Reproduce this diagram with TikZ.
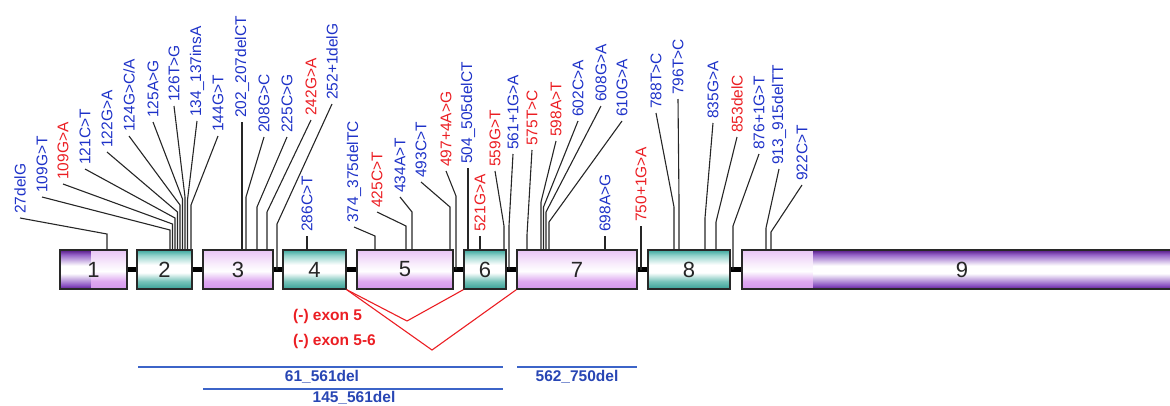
\documentclass[tikz,border=0pt]{standalone}
\usepackage{fontspec}
\setmainfont{Liberation Sans}
\usetikzlibrary{calc}
\definecolor{mblue}{RGB}{30,50,200}
\definecolor{mred}{RGB}{235,30,35}
\definecolor{lineblue}{RGB}{60,100,200}
\definecolor{dblue}{RGB}{40,70,180}
\definecolor{edgec}{RGB}{40,40,40}
\definecolor{lilA}{RGB}{232,196,245}
\definecolor{lilB}{RGB}{248,236,252}
\definecolor{lilC}{RGB}{222,168,240}
\definecolor{lilD}{RGB}{212,150,236}
\definecolor{tealA}{RGB}{60,168,158}
\definecolor{tealB}{RGB}{150,212,204}
\definecolor{tealC}{RGB}{120,196,186}
\definecolor{tealD}{RGB}{55,160,150}
\definecolor{dpA}{RGB}{85,25,135}
\definecolor{dpB}{RGB}{150,100,200}
\definecolor{dpC}{RGB}{140,85,195}
\definecolor{dpD}{RGB}{95,30,145}
\pgfdeclareverticalshading{lilacsh}{100bp}{color(0bp)=(lilD); color(25bp)=(lilD); color(35bp)=(lilC); color(48bp)=(white); color(58bp)=(lilB); color(75bp)=(lilA); color(100bp)=(lilA)}
\pgfdeclareverticalshading{tealsh}{100bp}{color(0bp)=(tealD); color(25bp)=(tealD); color(35bp)=(tealC); color(46bp)=(white); color(56bp)=(white); color(68bp)=(tealB); color(75bp)=(tealA); color(100bp)=(tealA)}
\pgfdeclareverticalshading{darkpsh}{100bp}{color(0bp)=(dpD); color(25bp)=(dpD); color(30bp)=(dpC); color(45bp)=(white); color(55bp)=(white); color(69bp)=(dpB); color(75bp)=(dpA); color(100bp)=(dpA)}
\tikzset{
  exon/.style={draw=edgec, line width=1.4pt, inner sep=0pt, minimum height=39pt,
    font=\fontsize{22}{24}\selectfont, text=black!85},
  lab/.style={rotate=90, anchor=west, inner xsep=4pt, inner ysep=0pt,
    font=\fontsize{15.5}{17}\selectfont},
  lead/.style={draw=black!85, line width=1.1pt},
  intron/.style={draw=black, line width=5pt},
  splice/.style={draw=mred, line width=1.1pt},
  skiplab/.style={anchor=west, inner sep=0pt, text=mred, font=\bfseries\fontsize{15.5}{17}\selectfont},
  dline/.style={draw=lineblue, line width=1.5pt},
  dlab/.style={inner sep=0pt, text=dblue, font=\bfseries\fontsize{15.5}{17}\selectfont}
}
\newcommand\mutlab[8]{%
  \node[lab, text=#4] (#1) at (#2,#3) {#5};
  \draw[lead] (#1.west) -- (#6,#7) -- (#6,#7 |- #8);
}
\begin{document}
\begin{tikzpicture}[x=1pt,y=-1pt]
\useasboundingbox (0,0) rectangle (1170,405);
\clip (0,0) rectangle (1170,405);
% exon shading parts for 1 and 9
\shade[shading=darkpsh] (60,250) rectangle (91,289);
\shade[shading=lilacsh] (91,250) rectangle (127,289);
\shade[shading=lilacsh] (742,250) rectangle (813,289);
\shade[shading=darkpsh] (813,250) rectangle (1182,289);
% exons
\node[exon, minimum width=67pt] (e1) at (93.5,269.5) {1};
\node[exon, shade, shading=tealsh, minimum width=55pt] (e2) at (164.5,269.5) {2};
\node[exon, shade, shading=lilacsh, minimum width=70pt] (e3) at (238,269.5) {3};
\node[exon, shade, shading=tealsh, minimum width=63pt] (e4) at (314.5,269.5) {4};
\node[exon, shade, shading=lilacsh, minimum width=96pt] (e5) at (405,269.5) {5};
\node[exon, shade, shading=tealsh, minimum width=42pt] (e6) at (485,269.5) {6};
\node[exon, shade, shading=lilacsh, minimum width=120pt] (e7) at (577,269.5) {7};
\node[exon, shade, shading=tealsh, minimum width=82pt] (e8) at (689,269.5) {8};
\node[exon, minimum width=440pt] (e9) at (962,269.5) {9};
% introns
\foreach \a/\b in {e1/e2,e2/e3,e3/e4,e4/e5,e5/e6,e6/e7,e7/e8,e8/e9}
  \draw[intron] (\a.east) -- (\b.west);
% exon 1
\mutlab{m27}{20}{218}{mblue}{27delG}{107}{234}{e1.north}
% exon 2
\mutlab{m109a}{42}{197}{mblue}{109G>T}{170}{230}{e2.north}
\mutlab{m109b}{63}{184}{mred}{109G>A}{172.5}{224}{e2.north}
\mutlab{m121}{85}{169}{mblue}{121C>T}{175}{218}{e2.north}
\mutlab{m122}{107}{152}{mblue}{122G>A}{177.5}{212}{e2.north}
\mutlab{m124}{129}{136}{mblue}{124G>C/A}{180}{205}{e2.north}
\mutlab{m125}{153}{122}{mblue}{125A>G}{182.5}{199}{e2.north}
\mutlab{m126}{174}{106}{mblue}{126T>G}{185}{197}{e2.north}
\mutlab{m134}{197}{121}{mblue}{134\_137insA}{187.5}{200}{e2.north}
\mutlab{m144}{218}{136}{mblue}{144G>T}{191}{205}{e2.north}
% exon 3
\mutlab{m202}{242}{122}{mblue}{202\_207delCT}{242}{200}{e3.north}
\mutlab{m208}{264}{137}{mblue}{208G>C}{246}{197}{e3.north}
\mutlab{m225}{287}{137}{mblue}{225C>G}{257}{207}{e3.north}
\mutlab{m242}{311}{120}{mred}{242G>A}{267}{212}{e3.north}
\mutlab{m252}{332}{104}{mblue}{252+1delG}{277}{224}{e3.east}
% exon 4
\mutlab{m286}{307}{236}{mblue}{286C>T}{307}{240}{e4.north}
% exon 5
\mutlab{m374}{354}{227}{mblue}{374\_375delTC}{375}{236}{e5.north}
\mutlab{m425}{377}{212}{mred}{425C>T}{406}{226}{e5.north}
\mutlab{m434}{400}{197}{mblue}{434A>T}{412}{212}{e5.north}
\mutlab{m493}{421}{182}{mblue}{493C>T}{450}{207}{e5.north}
\mutlab{m497}{446}{171}{mred}{497+4A>G}{456}{196}{e5.east}
% exon 6
\mutlab{m504}{468}{168}{mblue}{504\_505delCT}{468}{200}{e6.north}
\mutlab{m521}{480}{236}{mred}{521G>A}{480}{240}{e6.north}
\mutlab{m559}{495}{171}{mred}{559G>T}{504}{226}{e6.north}
\mutlab{m561}{513}{154}{mblue}{561+1G>A}{509}{226}{e6.east}
% exon 7
\mutlab{m575}{532}{150}{mred}{575T>C}{527}{235}{e7.north}
\mutlab{m598}{556}{141}{mred}{598A>T}{541}{202}{e7.north}
\mutlab{m602}{578}{121}{mblue}{602C>A}{543.5}{207}{e7.north}
\mutlab{m608}{601}{106}{mblue}{608G>A}{546}{212}{e7.north}
\mutlab{m610}{622}{121}{mblue}{610G>A}{549}{222}{e7.north}
\mutlab{m698}{605}{236}{mblue}{698A>G}{605}{240}{e7.north}
\mutlab{m750}{641}{226}{mred}{750+1G>A}{641}{230}{e7.east}
% exon 8
\mutlab{m788}{656}{113}{mblue}{788T>C}{674}{207}{e8.north}
\mutlab{m796}{678}{99}{mblue}{796T>C}{679}{200}{e8.north}
\mutlab{m835}{713}{123}{mblue}{835G>A}{705}{218}{e8.north}
\mutlab{m853}{737}{137}{mred}{853delC}{716}{222}{e8.north}
\mutlab{m876}{759}{154}{mblue}{876+1G>T}{733}{226}{e8.east}
% exon 9
\mutlab{m913}{779}{169}{mblue}{913\_915delTT}{766}{228}{e9.north}
\mutlab{m922}{802}{185}{mblue}{922C>T}{771}{232}{e9.north}
% skipping
\coordinate (v1) at (407,321);
\coordinate (v2) at (432,350);
\draw[splice] (e4.south east) -- (v1) -- (e6.south west);
\draw[splice] (e4.south east) -- (v2) -- (e7.south west);
\node[skiplab] (s5) at (293,316) {(-) exon 5};
\node[skiplab] (s56) at (293,341) {(-) exon 5-6};
% deletions
\coordinate (d1a) at (138,367); \coordinate (d1b) at (503,367);
\coordinate (d2a) at (203,389); \coordinate (d2b) at (503,389);
\coordinate (d3a) at (517,367); \coordinate (d3b) at (637,367);
\draw[dline] (d1a) -- (d1b);
\draw[dline] (d2a) -- (d2b);
\draw[dline] (d3a) -- (d3b);
\node[dlab] (t1) at (322,377) {61\_561del};
\node[dlab] (t2) at (354,398) {145\_561del};
\node[dlab] (t3) at (577,377) {562\_750del};
\end{tikzpicture}
\end{document}
